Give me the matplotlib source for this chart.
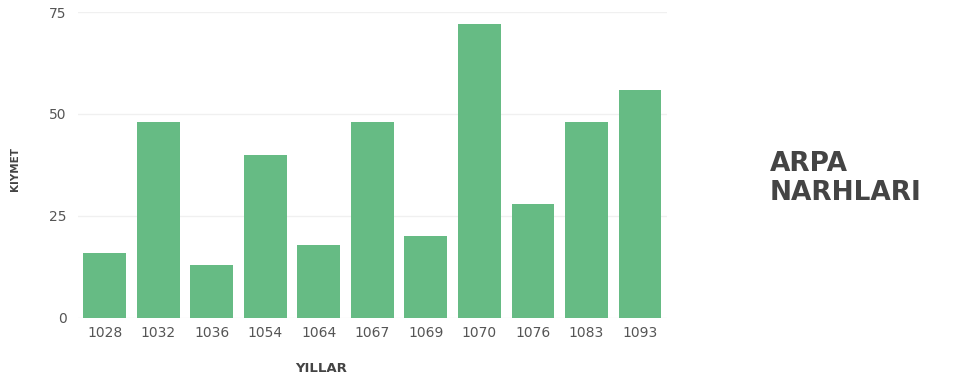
import numpy as np
import matplotlib.pyplot as plt

years = ["1028", "1032", "1036", "1054", "1064", "1067", "1069", "1070", "1076", "1083", "1093"]
values = [16, 48, 13, 40, 18, 48, 20, 72, 28, 48, 56]
yticks = [0, 25, 50, 75]

plt.rcParams['font.family'] = ['DejaVu Sans']

fig = plt.figure(figsize=(9.58, 3.81), dpi=100)
ax = fig.add_axes([0.0814, 0.1654, 0.6146, 0.8031])

x = np.arange(len(years))
ax.bar(x, values, width=0.8, color='#66bb84', zorder=2)

ax.set_xlim(-0.5, len(years) - 0.5)
ax.set_ylim(0, 75)
ax.set_yticks(yticks)
ax.set_xticks(x)
ax.set_xticklabels(years)
ax.grid(axis='y', color='#f0f0f0', linewidth=1, zorder=0)
for s in ax.spines.values():
    s.set_visible(False)
ax.tick_params(length=0, labelsize=10, labelcolor='#555555', pad=6)
ax.tick_params(axis='y', pad=8)

fig.text(321 / 958, 1 - 369 / 381, "YILLAR", fontsize=9.5, fontweight='bold',
         color='#444444', ha='center', va='center')
fig.text(15 / 958, 1 - 169 / 381, "KIYMET", fontsize=7.5, fontweight='bold',
         color='#444444', ha='center', va='center', rotation=90)

fig.text(770 / 958, 0.5315, "ARPA\nNARHLARI", fontsize=19, fontweight='bold',
         color='#444444', ha='left', va='center', linespacing=1.12)

fig.savefig("out.png", dpi=100)
